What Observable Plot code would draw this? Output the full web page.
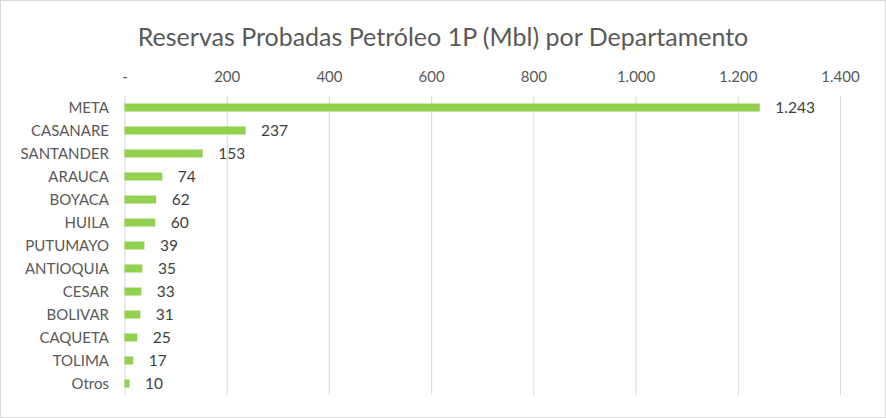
<!DOCTYPE html>
<html>
<head>
<meta charset="utf-8">
<script src="https://cdn.jsdelivr.net/npm/d3@7"></script>
<script src="https://cdn.jsdelivr.net/npm/@observablehq/plot@0.6"></script>
<style>
  html, body { margin: 0; padding: 0; background: #fff; }
  body { width: 886px; height: 418px; position: relative; overflow: hidden; font-family: Lato, "Open Sans", sans-serif; }
  #frame { position: absolute; left: 0; top: 0; width: 886px; height: 418px; box-sizing: border-box; border: 1px solid #d9d9d9; }
  #title { position: absolute; left: 0; top: 21px; width: 886px; text-align: center; font-size: 25px; color: #595959; line-height: 30px; }
  #chart { position: absolute; left: 0; top: 50px; }
</style>
</head>
<body>
<div id="frame"></div>
<div id="title">Reservas Probadas Petróleo 1P (Mbl) por Departamento</div>
<div id="chart"></div>
<script>
const departamentos = ["META", "CASANARE", "SANTANDER", "ARAUCA", "BOYACA", "HUILA", "PUTUMAYO", "ANTIOQUIA", "CESAR", "BOLIVAR", "CAQUETA", "TOLIMA", "Otros"];
const reservas = [1243, 237, 153, 74, 62, 60, 39, 35, 33, 31, 25, 17, 10];
const xTicks = [0, 200, 400, 600, 800, 1000, 1200, 1400];

const data = departamentos.map((d, i) => ({departamento: d, valor: reservas[i]}));
const loc = d3.formatLocale({decimal: ",", thousands: ".", grouping: [3], currency: ["", ""]});
const fmt = loc.format(",");
const tickFmt = d => d === 0 ? "-" : fmt(d);

const chart = Plot.plot({
  width: 886,
  height: 360,
  marginTop: 46,
  marginBottom: 15,
  marginLeft: 124.5,
  marginRight: 46,
  style: {fontFamily: "Lato, 'Open Sans', sans-serif", fontSize: "15px", color: "#595959", background: "transparent"},
  x: {domain: [0, 1400], axis: null},
  y: {domain: departamentos, padding: 0, axis: null},
  marks: [
    Plot.gridX(xTicks, {stroke: "#d9d9d9", strokeOpacity: 1, strokeWidth: 1}),
    Plot.axisX(xTicks, {anchor: "top", tickSize: 0, tickPadding: 15, tickFormat: tickFmt, fill: "#595959", fontSize: 15, label: null}),
    Plot.axisY({anchor: "left", tickSize: 0, tickPadding: 16, fill: "#595959", fontSize: 15, label: null}),
    Plot.barX(data, {x: "valor", y: "departamento", fill: "#92D050", insetTop: 7.5, insetBottom: 7.5}),
    Plot.text(data, {x: "valor", y: "departamento", text: d => fmt(d.valor), dx: 15, textAnchor: "start", fill: "#404040", fontSize: 15.5})
  ]
});
document.getElementById("chart").appendChild(chart);
</script>
</body>
</html>
